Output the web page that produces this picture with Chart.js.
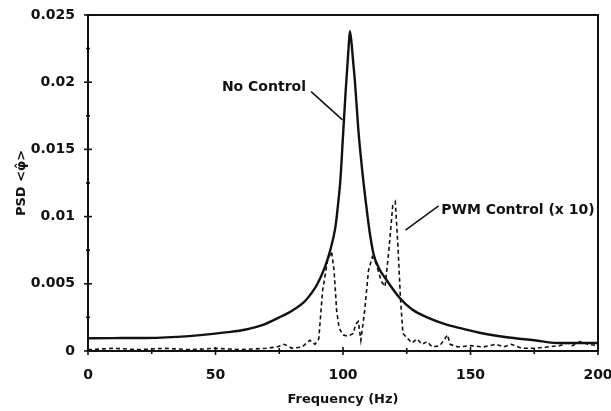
<!DOCTYPE html>
<html>
<head>
<meta charset="utf-8">
<script src="https://cdn.jsdelivr.net/npm/chart.js@4/dist/chart.umd.min.js"></script>
<style>
  html, body { margin: 0; padding: 0; background: #fff; }
  #wrap { width: 611px; height: 411px; }
</style>
</head>
<body>
<div id="wrap"><canvas id="psd"></canvas></div>
<script>
// No Control spectrum (Hz, PSD)
const freqNoCtrl = [0, 10, 20, 27, 35, 45, 55, 62, 68, 75, 80, 85, 88, 90, 93, 95, 97, 98, 99, 100, 101, 102.2, 102.7,
  103.3, 104, 104.7, 106, 107.5, 109, 110.5, 112, 114, 117, 122, 127, 133, 140, 146, 155, 165, 175, 184, 200];
const psdNoCtrl = [0.00095, 0.00096, 0.00097, 0.00098, 0.00105, 0.0012, 0.0014, 0.0016, 0.0019, 0.0025, 0.0030, 0.0037, 0.0044, 0.0050, 0.0063, 0.0075, 0.0092, 0.0108, 0.0128, 0.0160, 0.0192, 0.0226, 0.0238,
  0.0230, 0.0215, 0.0200, 0.0165, 0.0135, 0.0110, 0.0088, 0.0072, 0.0062, 0.0053, 0.0040, 0.0031, 0.0025, 0.0020, 0.0017, 0.0013, 0.0010, 0.0008, 0.0006, 0.0006];

// PWM Control spectrum, scaled x 10
const freqPwm = [0, 10, 20, 30, 40, 50, 60, 70, 74, 77, 80, 84, 87, 89, 90.5, 92, 94, 95.5, 96.5, 97.5, 98.5, 100, 102, 104, 105, 106, 107,
  108.5, 110, 111.5, 113, 115, 116.5, 118, 119.5, 120.5, 121.5, 122.5, 123.5, 125, 127, 129, 131, 133, 135, 138, 141, 142, 145,
  150, 155, 160, 163, 166, 170, 175, 180, 185, 188, 190, 193, 196, 200];
const psdPwm = [0.0001, 0.0002, 0.0001, 0.0002, 0.0001, 0.0002, 0.0001, 0.0002, 0.0003, 0.0005, 0.0002, 0.0003, 0.0008, 0.0005, 0.0009, 0.0045, 0.0068, 0.0074, 0.0060, 0.0030, 0.0017, 0.0012, 0.0011, 0.0013, 0.0020, 0.0022, 0.0008,
  0.0030, 0.0060, 0.0070, 0.0065, 0.0052, 0.0048, 0.0075, 0.0108, 0.0111, 0.0080, 0.0040, 0.0013, 0.0010, 0.0006, 0.0009, 0.0005, 0.0007, 0.0003, 0.0004, 0.0012, 0.0005, 0.0003,
  0.0004, 0.0003, 0.0005, 0.0003, 0.0005, 0.0002, 0.0002, 0.0003, 0.0004, 0.0006, 0.0004, 0.0007, 0.0005, 0.0004];

// axis ranges and tick spacing
const xRange = [0, 200];
const xStep = 25;
const xLabelEvery = 50;
const yRange = [0, 0.025];
const yStep = 0.0025;
const yLabelEvery = 0.005;

// callout labels: text, anchor of the text, and where the leader line ends (data units)
const callouts = [
  { text: 'No Control', at: [52.5, 0.0196], from: [87.5, 0.0193], to: [99.8, 0.0172] },
  { text: 'PWM Control (x 10)', at: [138.5, 0.0105], from: [137.5, 0.0108], to: [124.5, 0.0090] }
];

const ink = '#111';
const isMultiple = (v, step) => Math.abs(Math.round(v / step) * step - v) < 1e-9;

// ticks cross the axis lines, box is closed on top and right, callouts with leaders
const framePlugin = {
  id: 'frame',
  afterDraw(chart) {
    const { ctx, chartArea: a, scales: { x, y } } = chart;
    ctx.save();
    ctx.strokeStyle = ink;
    ctx.lineWidth = 2;
    ctx.beginPath();
    ctx.moveTo(a.left, a.top);
    ctx.lineTo(a.right, a.top);
    ctx.lineTo(a.right, a.bottom);
    ctx.stroke();

    ctx.lineWidth = 1.6;
    x.ticks.forEach(t => {
      const px = x.getPixelForValue(t.value);
      const len = isMultiple(t.value, xLabelEvery) ? 4 : 3;
      ctx.beginPath();
      ctx.moveTo(px, a.bottom - len);
      ctx.lineTo(px, a.bottom + len);
      ctx.stroke();
    });
    y.ticks.forEach(t => {
      const py = y.getPixelForValue(t.value);
      const len = isMultiple(t.value, yLabelEvery) ? 4 : 2;
      ctx.beginPath();
      ctx.moveTo(a.left - len, py);
      ctx.lineTo(a.left + len, py);
      ctx.stroke();
    });

    ctx.fillStyle = ink;
    ctx.font = 'bold 14px "DejaVu Sans"';
    ctx.textBaseline = 'middle';
    ctx.textAlign = 'left';
    ctx.lineWidth = 1.5;
    callouts.forEach(c => {
      ctx.fillText(c.text, x.getPixelForValue(c.at[0]), y.getPixelForValue(c.at[1]));
      ctx.beginPath();
      ctx.moveTo(x.getPixelForValue(c.from[0]), y.getPixelForValue(c.from[1]));
      ctx.lineTo(x.getPixelForValue(c.to[0]), y.getPixelForValue(c.to[1]));
      ctx.stroke();
    });
    ctx.restore();
  }
};

const toPoints = (xs, ys) => xs.map((f, i) => ({ x: f, y: ys[i] }));

new Chart(document.getElementById('psd'), {
  type: 'line',
  data: {
    datasets: [
      {
        label: 'No Control',
        data: toPoints(freqNoCtrl, psdNoCtrl),
        borderColor: ink,
        borderWidth: 2.4,
        cubicInterpolationMode: 'monotone',
        pointRadius: 0,
        fill: false
      },
      {
        label: 'PWM Control (x 10)',
        data: toPoints(freqPwm, psdPwm),
        borderColor: ink,
        borderWidth: 1.6,
        borderDash: [4, 3],
        tension: 0,
        pointRadius: 0,
        fill: false
      }
    ]
  },
  options: {
    responsive: true,
    maintainAspectRatio: false,
    animation: false,
    layout: { padding: { top: 15, right: 13, bottom: 0, left: 0 } },
    plugins: {
      legend: { display: false },
      tooltip: { enabled: false }
    },
    scales: {
      x: {
        type: 'linear',
        min: xRange[0],
        max: xRange[1],
        grid: { display: false },
        border: { display: true, color: ink, width: 2 },
        ticks: {
          stepSize: xStep,
          autoSkip: false,
          maxRotation: 0,
          padding: 8,
          color: ink,
          font: { family: '"DejaVu Sans"', size: 14, weight: 'bold' },
          callback: v => isMultiple(v, xLabelEvery) ? String(v) : ''
        },
        title: {
          display: true,
          text: 'Frequency (Hz)',
          color: ink,
          font: { family: '"DejaVu Sans"', size: 13, weight: 'bold' },
          padding: { top: 0, bottom: 4 }
        },
        afterFit: s => { s.height = 60; s.paddingLeft = 0; s.paddingRight = 0; }
      },
      y: {
        min: yRange[0],
        max: yRange[1],
        grid: { display: false },
        border: { display: true, color: ink, width: 2 },
        ticks: {
          stepSize: yStep,
          autoSkip: false,
          padding: 5,
          color: ink,
          font: { family: '"DejaVu Sans"', size: 14, weight: 'bold' },
          callback: v => isMultiple(v, yLabelEvery) ? String(+v.toFixed(3)) : ''
        },
        title: {
          display: true,
          text: 'PSD <φ\u0302>',
          color: ink,
          font: { family: '"DejaVu Sans"', size: 13, weight: 'bold' },
          padding: { top: 14, bottom: 0 }
        },
        afterFit: s => { s.width = 88; s.paddingTop = 0; s.paddingBottom = 0; }
      }
    }
  },
  plugins: [framePlugin]
});
</script>
</body>
</html>
